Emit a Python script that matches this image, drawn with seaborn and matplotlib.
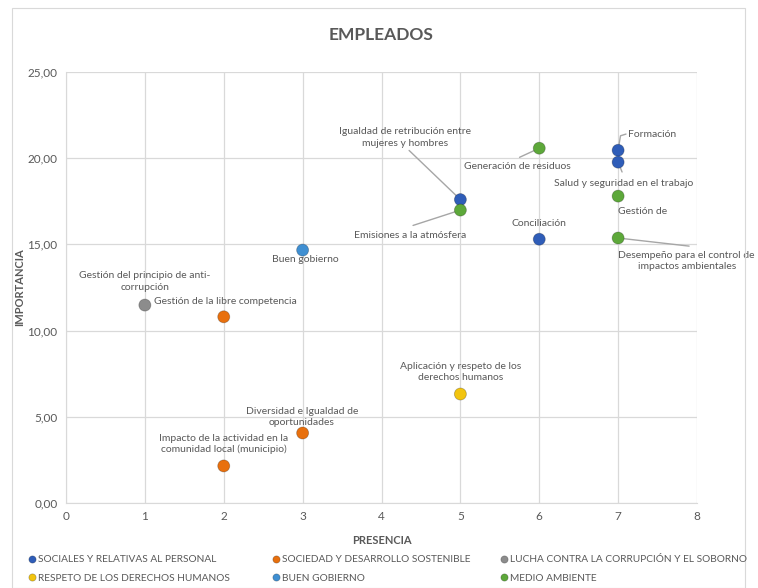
import matplotlib
matplotlib.use("Agg")
import matplotlib.pyplot as plt
import seaborn as sns
import pandas as pd
from matplotlib.ticker import FuncFormatter, MultipleLocator
from matplotlib.patches import Rectangle

# ---- data ----
labels = [
    "Formación", "Salud y seguridad en el trabajo", "Igualdad de retribución entre\nmujeres y hombres",
    "Conciliación", "Gestión de", "Desempeño para el control de\nimpactos ambientales",
    "Generación de residuos", "Emisiones a la atmósfera", "Buen gobierno",
    "Gestión del principio de anti-\ncorrupción", "Gestión de la libre competencia",
    "Diversidad e Igualdad de\noportunidades", "Impacto de la actividad en la\ncomunidad local (municipio)",
    "Aplicación y respeto de los\nderechos humanos",
]
presencia = [7, 7, 5, 6, 7, 7, 6, 5, 3, 1, 2, 3, 2, 5]
importancia = [20.46, 19.77, 17.60, 15.30, 17.80, 15.37, 20.58, 16.99, 14.67, 11.48, 10.80, 4.06, 2.15, 6.32]
grupo = [
    "SOCIALES Y RELATIVAS AL PERSONAL", "SOCIALES Y RELATIVAS AL PERSONAL", "SOCIALES Y RELATIVAS AL PERSONAL",
    "SOCIALES Y RELATIVAS AL PERSONAL", "MEDIO AMBIENTE", "MEDIO AMBIENTE", "MEDIO AMBIENTE", "MEDIO AMBIENTE",
    "BUEN GOBIERNO", "LUCHA CONTRA LA CORRUPCIÓN Y EL SOBORNO", "SOCIEDAD Y DESARROLLO SOSTENIBLE",
    "SOCIEDAD Y DESARROLLO SOSTENIBLE", "SOCIEDAD Y DESARROLLO SOSTENIBLE", "RESPETO DE LOS DERECHOS HUMANOS",
]
# label text positions (data coords)
label_x = [7.13, 7.07, 4.30, 6.00, 7.31, 7.87, 5.72, 4.36, 3.04, 1.00, 1.12, 2.99, 2.00, 5.00]
label_y = [21.40, 18.56, 21.20, 16.20, 16.88, 14.04, 19.50, 15.50, 14.10, 12.85, 11.70, 4.99, 3.42, 7.60]
label_ha = ["left", "center", "center", "center", "center", "center", "center", "center", "center",
            "center", "left", "center", "center", "center"]

legend_order = [
    "SOCIALES Y RELATIVAS AL PERSONAL", "RESPETO DE LOS DERECHOS HUMANOS",
    "SOCIEDAD Y DESARROLLO SOSTENIBLE", "BUEN GOBIERNO",
    "LUCHA CONTRA LA CORRUPCIÓN Y EL SOBORNO", "MEDIO AMBIENTE",
]
palette = {
    "SOCIALES Y RELATIVAS AL PERSONAL": "#2F5DB8",
    "SOCIEDAD Y DESARROLLO SOSTENIBLE": "#E8700E",
    "LUCHA CONTRA LA CORRUPCIÓN Y EL SOBORNO": "#8C8C8C",
    "RESPETO DE LOS DERECHOS HUMANOS": "#F2C40F",
    "BUEN GOBIERNO": "#3F8FD2",
    "MEDIO AMBIENTE": "#5DA83A",
}

df = pd.DataFrame({"PRESENCIA": presencia, "IMPORTANCIA": importancia, "grupo": grupo})

sns.set_style("white")
plt.rcParams["font.family"] = ["Lato", "DejaVu Sans"]
txt = "#595959"

fig = plt.figure(figsize=(7.58, 5.88), dpi=100)
ax = fig.add_axes([66 / 758, 1 - 503 / 588, (697 - 66) / 758, (503 - 72) / 588])

fig.patches.append(Rectangle((12 / 758, 0), (745 - 12) / 758, 1 - 8 / 588, transform=fig.transFigure,
                             fill=False, edgecolor="#D9D9D9", linewidth=0.8))

sns.scatterplot(data=df, x="PRESENCIA", y="IMPORTANCIA", hue="grupo", hue_order=legend_order,
                palette=palette, s=75, edgecolor="#00000040", linewidth=0.6, ax=ax, zorder=5)

for i, lab in enumerate(labels):
    ax.text(label_x[i], label_y[i], lab, ha=label_ha[i], va="center", fontsize=7.5, color=txt,
            linespacing=1.3, zorder=6)

# leader lines
lines = {
    0: ((7.0, 20.46), (7.03, 21.3), (7.1, 21.4)),
    1: ((7.0, 19.77), (7.05, 19.2)),
    2: ((5.0, 17.60), (4.35, 20.45)),
    5: ((7.0, 15.37), (7.9, 14.9)),
    6: ((6.0, 20.58), (5.75, 20.05)),
    7: ((5.0, 16.99), (4.4, 16.1)),
}
for k, pts in lines.items():
    xs = [p[0] for p in pts]
    ys = [p[1] for p in pts]
    ax.plot(xs, ys, color="#A6A6A6", linewidth=1.0, zorder=4)

ax.set_xlim(0, 8)
ax.set_ylim(0, 25)
ax.xaxis.set_major_locator(MultipleLocator(1))
ax.yaxis.set_major_locator(MultipleLocator(5))
ax.yaxis.set_major_formatter(FuncFormatter(lambda v, p: f"{v:.2f}".replace(".", ",")))
ax.grid(True, color="#D9D9D9", linewidth=0.9)
ax.set_axisbelow(True)
for s in ["top", "right"]:
    ax.spines[s].set_visible(False)
for s in ["left", "bottom"]:
    ax.spines[s].set_color("#D9D9D9")
ax.tick_params(axis="both", colors=txt, labelsize=8.5, length=0, pad=6)
ax.set_xlabel("PRESENCIA", fontsize=8, fontweight="bold", color=txt, labelpad=9)
ax.set_ylabel("IMPORTANCIA", fontsize=8, fontweight="bold", color=txt, labelpad=2)
ax.set_title("EMPLEADOS", fontsize=12.5, fontweight="bold", color=txt, pad=23)

handles, labs = ax.get_legend_handles_labels()
ax.get_legend().remove()
col_x = [27, 271, 499]
for c in range(3):
    leg = fig.legend(handles[2 * c:2 * c + 2], labs[2 * c:2 * c + 2], loc="upper left",
                     bbox_to_anchor=(col_x[c] / 758, 1 - 555 / 588), bbox_transform=fig.transFigure,
                     ncol=1, frameon=False, fontsize=7.3, labelcolor=txt, handletextpad=0.05,
                     markerscale=0.6, borderaxespad=0, borderpad=0, handlelength=1.0, labelspacing=0.95)

fig.savefig("out.png", dpi=100)
